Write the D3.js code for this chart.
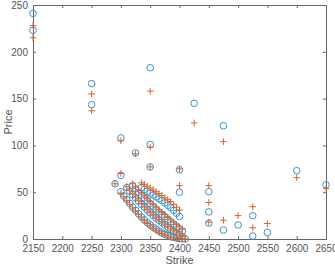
<!DOCTYPE html>
<html><head><meta charset="utf-8">
<script src="https://cdn.jsdelivr.net/npm/d3@7"></script>
<style>html,body{margin:0;padding:0;background:#fff;}svg{display:block;}</style>
</head><body>
<svg id="chart" width="335" height="268"></svg>
<script>
// Isolated option quotes
const isoStrike = [2150,2150,2250,2250,2290,2300,2300,2325,2350,2350,2350,2400,2400,2425,2450,2450,2450,2475,2475,2500,2525,2525,2550,2600,2650];
const isoModel  = [241,223,166,143.5,59,108,68,92,183,101,77,74,50,145,50.5,29,17,121,9.6,15,25,3.2,7,73,58];
const isoMarket = [228,215,155,137,59,105,70,91,158,98,77,75,57,124,57,39,18,104,20,25,34.5,12,16.5,65.5,54];

// Dense strike chains
const chainAStrike = [2300,2305,2310,2315,2320,2325,2330,2335,2340,2345,2350,2355,2360,2365,2370,2375,2380,2385,2390,2395,2400,2405,2410];
const chainAModel  = [50.5,46,42,38,34,30.5,27,23.5,20.5,17.5,15,12.5,10.5,8.5,6.5,5,3.8,2.6,1.7,1,0.5,0.2,0.1];
const chainAMarket = [49,45,41,37,33,29.5,26,22.5,19.5,16.5,14,11.5,9.5,7.5,6,4.5,3.3,2.2,1.4,0.8,0.4,0.2,0.1];

const chainBStrike = [2310,2315,2320,2325,2330,2335,2340,2345,2350,2355,2360,2365,2370,2375,2380,2385,2390,2395,2400,2405];
const chainBModel  = [55,51,47.5,44,40.5,37,34,31,28,25,22.5,20,17.5,15,12.5,10.5,8.5,6.5,4.5,2.8];
const chainBMarket = [56,52,48.5,45,41.5,38,35,32,29,26,23.5,21,18.5,16,13.5,11.5,9.5,7.5,5.5,3.6];

const chainCStrike = [2320,2325,2330,2335,2340,2345,2350,2355,2360,2365,2370,2375,2380,2385,2390,2395,2400,2405];
const chainCModel  = [57,53.5,50,47,44,41,38,35,32,29,26.5,24,21,18.5,16,13.5,11,8.5];
const chainCMarket = [59,55.5,52,49,46,43,40,37,34,31,28.5,26,23,20.5,18,15.5,13,10.5];

const chainDStrike = [2335,2340,2345,2350,2355,2360,2365,2370,2375,2380,2385,2390,2395,2400];
const chainDModel  = [55,53,51,49,47,45,43,41,38.5,36,33.5,30.5,27.5,24];
const chainDMarket = [60,58.5,56.5,54.5,52.5,50.5,48.5,46.5,44,42,40,37,34,31];

const xTicks = [2150,2200,2250,2300,2350,2400,2450,2500,2550,2600,2650];
const yTicks = [0,50,100,150,200,250];

const strikes = [].concat(isoStrike, chainAStrike, chainBStrike, chainCStrike, chainDStrike);
const model   = [].concat(isoModel, chainAModel, chainBModel, chainCModel, chainDModel);
const market  = [].concat(isoMarket, chainAMarket, chainBMarket, chainCMarket, chainDMarket);
const pts = strikes.map((k,i)=>({k, m: model[i], p: market[i]}));

const svg = d3.select('#chart');
const L = 33, R = 326, T = 5, B = 239;
const x = d3.scaleLinear().domain([2150,2650]).range([L,R]);
const y = d3.scaleLinear().domain([0,250]).range([B,T]);
const axisColor = '#666';
const textColor = '#555';
const font = 'Liberation Sans, Arial, Helvetica, sans-serif';

const gx = svg.append('g').attr('transform',`translate(0,${B})`)
  .call(d3.axisBottom(x).tickValues(xTicks).tickFormat(d3.format('d')).tickSizeInner(-3).tickSizeOuter(0).tickPadding(6));
const gy = svg.append('g').attr('transform',`translate(${L},0)`)
  .call(d3.axisLeft(y).tickValues(yTicks).tickSizeInner(-3).tickSizeOuter(0).tickPadding(5));
const gxt = svg.append('g').attr('transform',`translate(0,${T})`)
  .call(d3.axisTop(x).tickValues(xTicks).tickFormat('').tickSizeInner(-3).tickSizeOuter(0));
const gyr = svg.append('g').attr('transform',`translate(${R},0)`)
  .call(d3.axisRight(y).tickValues(yTicks).tickFormat('').tickSizeInner(-3).tickSizeOuter(0));
[gx,gy,gxt,gyr].forEach(g=>{
  g.selectAll('path.domain').attr('stroke',axisColor).attr('stroke-width',1);
  g.selectAll('line').attr('stroke',axisColor);
  g.selectAll('text').attr('fill',textColor).style('font-family',font).style('font-size','10px');
});

const plot = svg.append('g');
plot.selectAll('circle.model').data(pts).enter().append('circle')
  .attr('class','model')
  .attr('cx',d=>x(d.k)).attr('cy',d=>y(d.m)).attr('r',3.3)
  .attr('fill','none').attr('stroke','#3a93c9').attr('stroke-width',1);
const s = 3.3;
plot.selectAll('path.market').data(pts).enter().append('path')
  .attr('class','market')
  .attr('d',d=>{const cx=x(d.k), cy=y(d.p); return `M${cx-s},${cy}H${cx+s}M${cx},${cy-s}V${cy+s}`;})
  .attr('stroke','#d9622b').attr('stroke-width',1).attr('fill','none');

svg.append('text').attr('x',(L+R)/2).attr('y',264).attr('text-anchor','middle')
  .style('font-family',font).style('font-size','11px').attr('fill',textColor).text('Strike');
svg.append('text').attr('transform',`translate(12,${(T+B)/2}) rotate(-90)`).attr('text-anchor','middle')
  .style('font-family',font).style('font-size','11px').attr('fill',textColor).text('Price');
</script>
</body></html>
